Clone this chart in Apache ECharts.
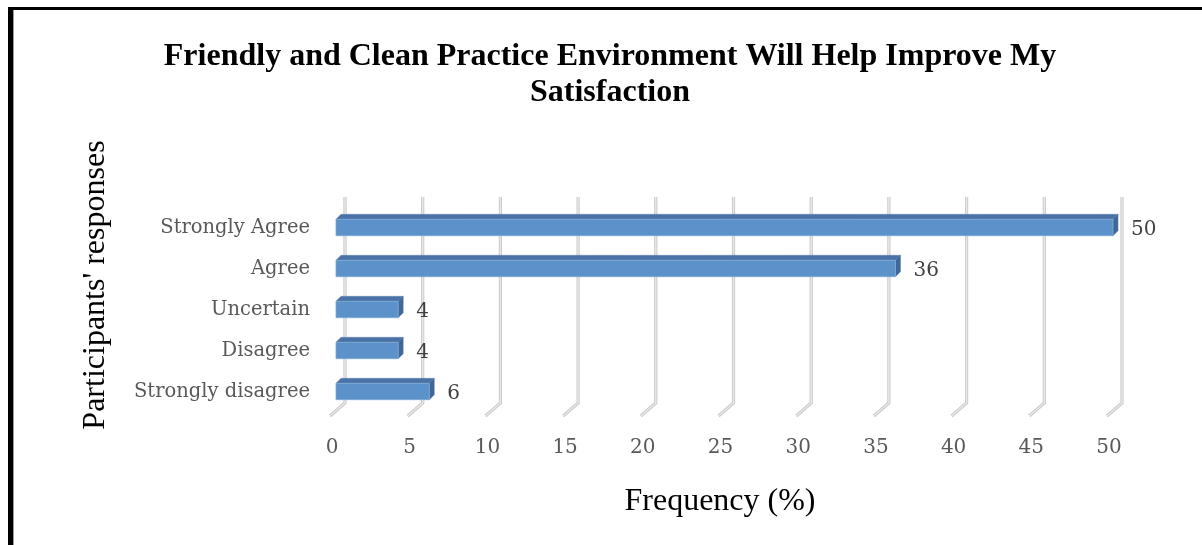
<!DOCTYPE html>
<html>
<head>
<meta charset="utf-8">
<script src="https://cdn.jsdelivr.net/npm/echarts@6/dist/echarts.min.js"></script>
<style>
html, body { margin: 0; padding: 0; background: #fff; }
#chart { width: 1202px; height: 545px; }
</style>
</head>
<body>
<div id="chart"></div>
<script>
// data (bottom to top)
var categories = ['Strongly disagree', 'Disagree', 'Uncertain', 'Agree', 'Strongly Agree'];
var values = [6, 4, 4, 36, 50];
var ticks = [0, 5, 10, 15, 20, 25, 30, 35, 40, 45, 50];

var chartTitle = 'Friendly and Clean Practice Environment Will Help Improve My\nSatisfaction';
var yName = "Participants' responses";
var xName = 'Frequency (%)';

var chart = echarts.init(document.getElementById('chart'));

// back-wall grid lines with the little floor segment, like the 3D look
function renderGrid(params, api) {
    var cs = params.coordSys;
    var x = api.coord([api.value(0), 0])[0];
    var top = cs.y - 10;
    var bottom = cs.y + cs.height - 9;
    var pts = [[x + 9, top], [x + 9, bottom], [x - 6, bottom + 13]];
    return {
        type: 'group',
        children: [
            { type: 'polyline', shape: { points: pts }, style: { stroke: '#c9c9c9', lineWidth: 3.2, fill: null } },
            { type: 'polyline', shape: { points: pts }, style: { stroke: '#e8e8e8', lineWidth: 1.4, fill: null } }
        ]
    };
}

// 3D-ish bar: front, top and right side faces
function renderBar(params, api) {
    var v = api.value(0);
    var c = api.value(1);
    var start = api.coord([0, c]);
    var end = api.coord([v, c]);
    var h = api.size([0, 1])[1] * 0.4;
    var x0 = start[0], x1 = end[0];
    var y0 = start[1] - h / 2, y1 = start[1] + h / 2;
    var d = 5;
    return {
        type: 'group',
        children: [
            { type: 'polygon', shape: { points: [[x0, y0], [x0 + d, y0 - d], [x1 + d, y0 - d], [x1, y0]] },
              style: { fill: '#4a72a6', stroke: '#5d83b5', lineWidth: 0.5 } },
            { type: 'polygon', shape: { points: [[x1, y0], [x1 + d, y0 - d], [x1 + d, y1 - d], [x1, y1]] },
              style: { fill: '#3f6798', stroke: '#4f75a6', lineWidth: 0.5 } },
            { type: 'rect', shape: { x: x0, y: y0, width: x1 - x0, height: h },
              style: { fill: '#5b92c9', stroke: '#7fa9d6', lineWidth: 0.8 } },
            { type: 'text', style: { text: String(v), x: x1 + 18, y: start[1] + 2.5,
              verticalAlign: 'middle', align: 'left',
              font: '20px "DejaVu Serif"', fill: '#404040' } }
        ]
    };
}

var option = {
    animation: false,
    backgroundColor: '#fff',
    grid: { left: 336, right: 89, top: 207, bottom: 133 },
    xAxis: {
        type: 'value',
        min: 0,
        max: 50,
        interval: 5,
        axisLine: { show: false },
        axisTick: { show: false },
        splitLine: { show: false },
        axisLabel: {
            margin: 26,
            padding: [0, 8, 0, 0],
            fontFamily: 'DejaVu Serif',
            fontSize: 20,
            color: '#595959'
        }
    },
    yAxis: {
        type: 'category',
        data: categories,
        axisLine: { show: false },
        axisTick: { show: false },
        splitLine: { show: false },
        axisLabel: {
            margin: 26,
            fontFamily: 'DejaVu Serif',
            fontSize: 19.5,
            color: '#595959'
        }
    },
    graphic: [
        { type: 'rect', shape: { x: 8, y: 7, width: 1194, height: 3 }, style: { fill: '#000' } },
        { type: 'rect', shape: { x: 8, y: 7, width: 5, height: 538 }, style: { fill: '#000' } },
        { type: 'rect', shape: { x: 13, y: 10, width: 1, height: 535 }, style: { fill: '#9a9a9a' } },
        { type: 'text', x: 610, y: 39,
          style: { text: chartTitle, align: 'center', verticalAlign: 'top',
                   font: 'bold 32px "Liberation Serif"', lineHeight: 36, fill: '#000' } },
        { type: 'text', x: 96, y: 285, rotation: Math.PI / 2,
          style: { text: yName, align: 'center', verticalAlign: 'middle',
                   font: '32px "Liberation Serif"', fill: '#000' } },
        { type: 'text', x: 720, y: 502,
          style: { text: xName, align: 'center', verticalAlign: 'middle',
                   font: '32px "Liberation Serif"', fill: '#000' } }
    ],
    series: [
        {
            type: 'custom',
            name: 'grid',
            silent: true,
            z: 1,
            renderItem: renderGrid,
            encode: { x: 0 },
            data: ticks.map(function (t) { return [t, 0]; })
        },
        {
            type: 'custom',
            name: 'Frequency',
            z: 2,
            renderItem: renderBar,
            encode: { x: 0, y: 1 },
            data: values.map(function (v, i) { return [v, i]; })
        }
    ]
};

chart.setOption(option);
</script>
</body>
</html>
